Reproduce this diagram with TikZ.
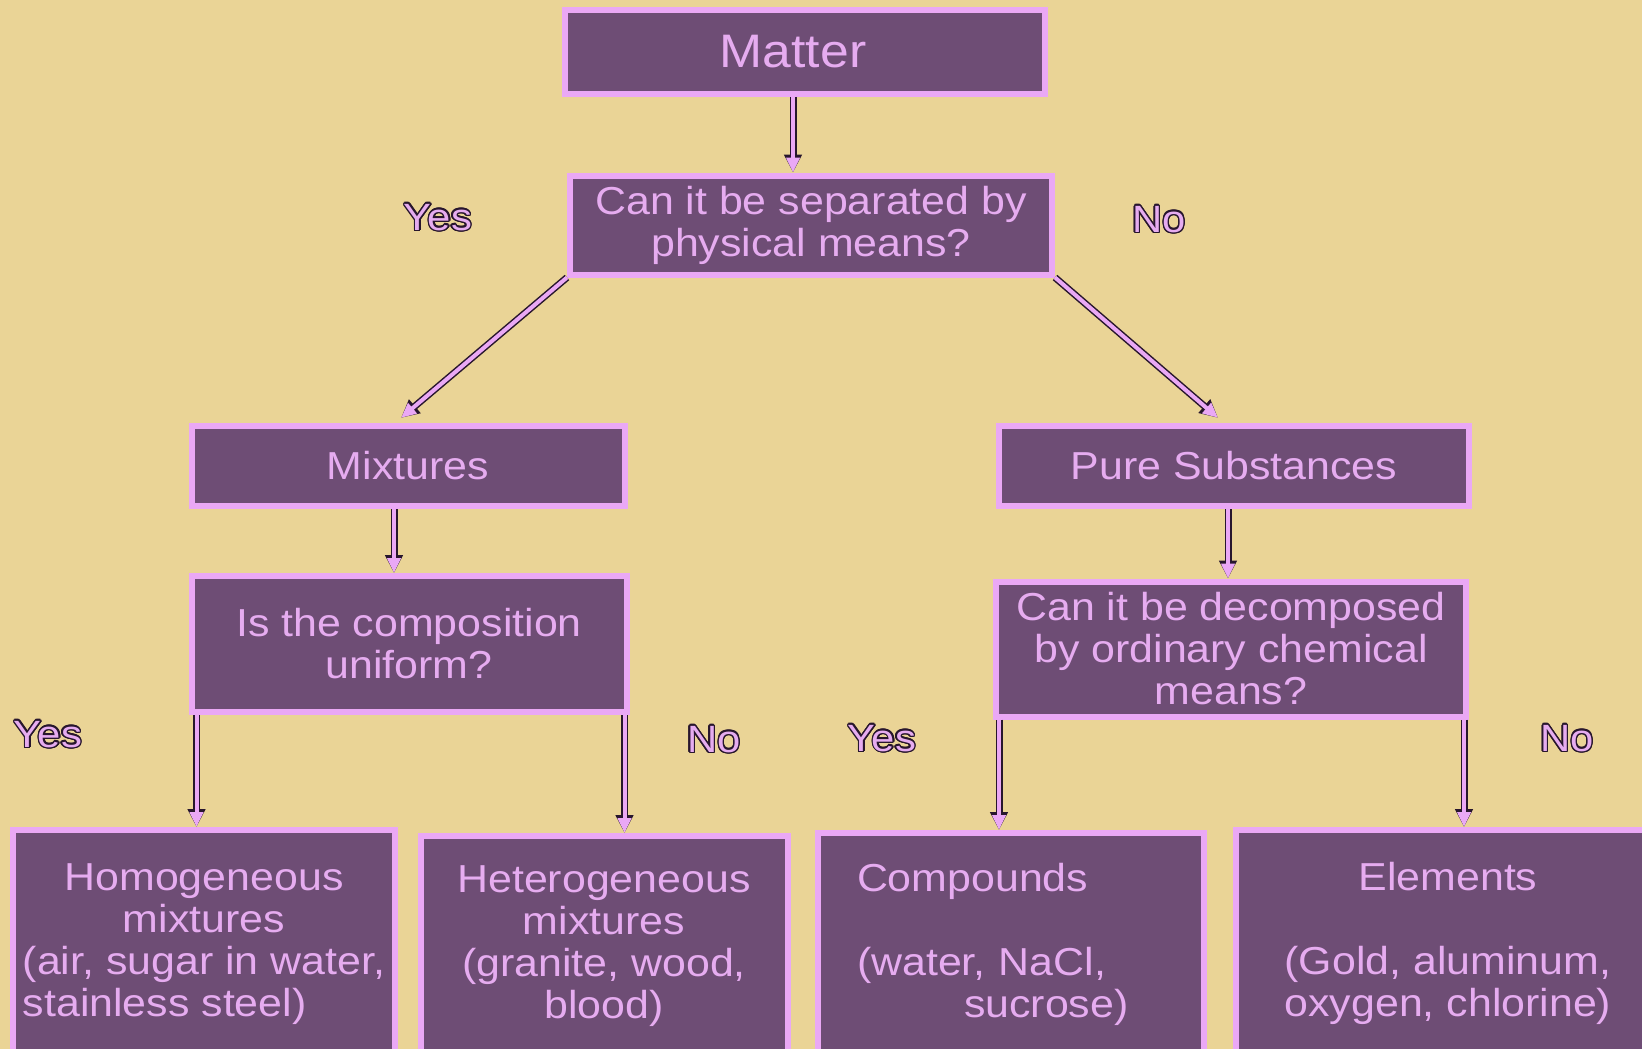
\documentclass[tikz,border=0pt]{standalone}
\usepackage{fontspec}
\setmainfont{Liberation Sans}[FakeStretch=1.1]
\usepackage[copies]{contour}
\usetikzlibrary{arrows.meta}

\definecolor{fundo}{RGB}{234,212,150}
\definecolor{roxo}{RGB}{110,77,117}
\definecolor{borda}{RGB}{234,168,245}
\definecolor{letra}{RGB}{230,172,240}
\definecolor{contorno}{RGB}{40,22,45}
\contourlength{1.4pt}
\contournumber{16}

\begin{document}
\begin{tikzpicture}[
    % Coordenadas em pixels, y para baixo
    x=1pt, y=-1pt,
    % Estilo padrao das caixas
    bloco/.style={draw=borda, line width=6pt, fill=roxo, text=letra,
      align=center, inner sep=0pt, font=\fontsize{39}{42}\selectfont},
    % Setas com contorno escuro
    seta/.style={draw=borda, line width=4pt, -{Triangle[length=15pt,width=13pt]},
      preaction={draw=contorno, line width=7pt, -{Triangle[length=18pt,width=17pt]}}},
    % Rotulos Yes / No
    rotulo/.style={text=letra, font=\fontsize{38}{40}\selectfont}
  ]

  % Fundo
  \fill[fundo] (0,0) rectangle (1642,1049);
  \useasboundingbox (0,0) rectangle (1642,1049);

  % Raiz
  \node[bloco, minimum width=480pt, minimum height=84pt,
    font=\fontsize{47}{50}\selectfont] (matter) at (805,52) {Matter\hspace*{24pt}};
  % Primeira pergunta
  \node[bloco, minimum width=482pt, minimum height=99pt] (sep) at (811,225)
    {Can it be separated by\\physical means?};

  % Segundo nivel
  \node[bloco, minimum width=433pt, minimum height=80pt] (mix) at (408,466) {Mixtures};
  \node[bloco, minimum width=470pt, minimum height=80pt] (pure) at (1234,466) {Pure Substances};

  % Perguntas do segundo nivel
  \node[bloco, minimum width=435pt, minimum height=136pt] (unif) at (409,644)
    {Is the composition\\uniform?};
  \node[bloco, minimum width=470pt, minimum height=135pt] (decomp) at (1231,649)
    {Can it be decomposed\\by ordinary chemical\\means?};

  % Folhas (passam da borda de baixo)
  \node[bloco, minimum width=382pt, minimum height=228pt] (homo) at (204,944)
    {Homogeneous\\mixtures\\(air, sugar in water,\\\rlap{stainless steel)}\phantom{(air, sugar in water,}};
  \node[bloco, minimum width=367pt, minimum height=220pt] (hetero) at (604,946)
    {Heterogeneous\\mixtures\\(granite, wood,\\blood)};
  \node[bloco, minimum width=386pt, minimum height=222pt, align=left, text width=308pt] (comp) at (1011,944)
    {Compounds\\[42pt](water, NaCl,\\\hspace*{107pt}sucrose)};
  \node[bloco, minimum width=425pt, minimum height=226pt] (elem) at (1448,943)
    {Elements\\[42pt](Gold, aluminum,\\oxygen, chlorine)};

  % Setas
  \draw[seta] ([xshift=-12pt]matter.south) -- ([xshift=-18pt]sep.north);
  \draw[seta, shorten >=8pt] (sep.south west) -- ([xshift=-13pt]mix.north);
  \draw[seta, shorten >=8pt] (sep.south east) -- ([xshift=-10pt]pure.north);
  \draw[seta] ([xshift=-14pt]mix.south) -- ([xshift=-15pt]unif.north);
  \draw[seta] ([xshift=-6pt]pure.south) -- ([xshift=-3pt]decomp.north);
  \draw[seta] ([xshift=8pt]unif.south west) -- ([xshift=8pt]unif.south west |- homo.north);
  \draw[seta] ([xshift=-5pt]unif.south east) -- ([xshift=-5pt]unif.south east |- hetero.north);
  \draw[seta] ([xshift=6pt]decomp.south west) -- ([xshift=6pt]decomp.south west |- comp.north);
  \draw[seta] ([xshift=-5pt]decomp.south east) -- ([xshift=-5pt]decomp.south east |- elem.north);

  % Rotulos
  \node[rotulo] (yes1) at (438,218) {\contour{contorno}{Yes}};
  \node[rotulo] (no1) at (1159,220) {\contour{contorno}{No}};
  \node[rotulo] (yes2) at (48,735) {\contour{contorno}{Yes}};
  \node[rotulo] (no2) at (714,740) {\contour{contorno}{No}};
  \node[rotulo] (yes3) at (882,739) {\contour{contorno}{Yes}};
  \node[rotulo] (no3) at (1567,739) {\contour{contorno}{No}};

\end{tikzpicture}
\end{document}
